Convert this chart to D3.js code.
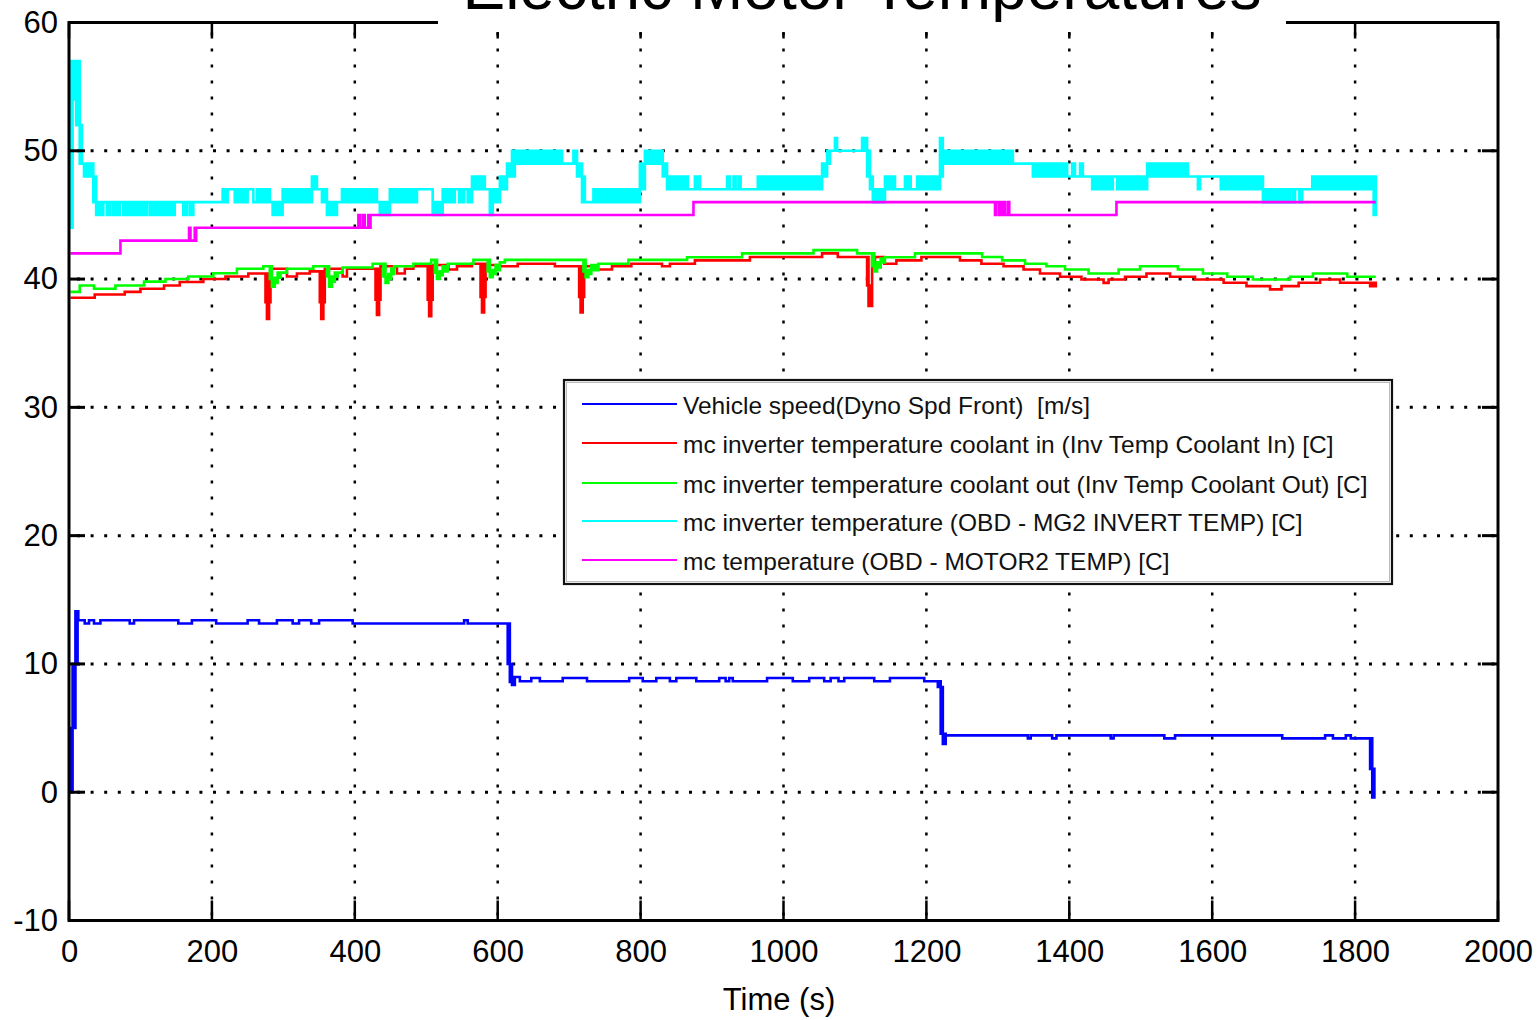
<!DOCTYPE html>
<html>
<head>
<meta charset="utf-8">
<script src="https://cdn.jsdelivr.net/npm/d3@7"></script>
<style>
body { margin: 0; background: #fff; }
svg { display: block; font-family: 'Liberation Sans', Arial, sans-serif; }
</style>
</head>
<body>
<svg id="chart" width="1537" height="1020"></svg>
<script>
// time ticks (s) and value ticks
var xTicks = [0, 200, 400, 600, 800, 1000, 1200, 1400, 1600, 1800, 2000];
var yTicks = [-10, 0, 10, 20, 30, 40, 50, 60];

// each entry: [time, low, high] held until the next time (high omitted = single value)
var vehicleSpeed = [
    [2, 0, 5], [5, 5, 10], [9, 10, 14.1], [12, 13.4, 14.1], [13, 13.4],
    [22, 13.15], [28, 13.4], [35, 13.15], [44, 13.4], [85, 13.15], [91, 13.4],
    [153, 13.15], [172, 13.4], [206, 13.15], [250, 13.4], [266, 13.15], [291, 13.4],
    [313, 13.15], [322, 13.4], [339, 13.15], [350, 13.4], [397, 13.15], [553, 13.4],
    [558, 13.15], [614, 10, 13.15], [617, 8.6, 10], [620, 8.36, 8.98], [624, 8.98],
    [631, 8.65], [647, 8.9], [659, 8.65], [691, 8.9], [725, 8.65], [784, 8.9], [803, 8.65],
    [822, 8.9], [841, 8.65], [850, 8.9], [878, 8.65], [910, 8.9], [919, 8.65], [924, 8.9],
    [929, 8.65], [977, 8.9], [1013, 8.65], [1036, 8.9], [1057, 8.65], [1066, 8.9], [1077, 8.65],
    [1085, 8.9], [1127, 8.65], [1149, 8.9], [1197, 8.65], [1216, 8.2, 8.65], [1220, 4.56, 8.2],
    [1223, 3.77, 4.56], [1227, 4.43], [1342, 4.2], [1346, 4.43], [1376, 4.2], [1382, 4.43],
    [1458, 4.2], [1462, 4.43], [1533, 4.2], [1548, 4.43], [1698, 4.2], [1758, 4.43],
    [1769, 4.2], [1787, 4.43], [1794, 4.2], [1821, 1.82, 4.2], [1824, -0.4, 1.82], [1827, -0.4]
];

var coolantIn = [
    [2, 38.54], [36, 38.8], [78, 39.0], [100, 39.25], [133, 39.5], [155, 39.77], [188, 40.0],
    [219, 40.2], [251, 40.44], [275, 38.2, 40.44], [277, 36.9, 38.2], [280, 38.2, 40.44],
    [282, 40.8], [305, 40.2], [319, 40.44], [337, 40.6], [351, 38.2, 40.6], [353, 36.9, 38.2],
    [356, 38.2, 40.6], [358, 40.8], [383, 40.2], [389, 40.8], [429, 38.4, 40.8], [431, 37.2, 38.4],
    [434, 38.4, 40.8], [436, 41.0], [459, 40.44], [470, 40.8], [482, 41.0], [502, 38.4, 41.0],
    [504, 37.1, 38.4], [507, 38.4, 41.0], [509, 41.1], [531, 40.75], [543, 41.0], [564, 41.2],
    [576, 38.6, 41.2], [578, 37.4, 38.6], [581, 38.6, 41.2], [583, 41.1], [603, 41.0],
    [628, 41.2], [680, 41.0], [714, 38.6, 41.0], [716, 37.4, 38.6], [719, 38.6, 41.0],
    [721, 41.0], [739, 40.75], [760, 41.0], [787, 41.2], [830, 41.0], [841, 41.2], [876, 41.46],
    [953, 41.72], [1054, 42.0], [1076, 41.72], [1117, 39.5, 41.72], [1119, 37.9, 39.5],
    [1124, 40.9, 41.72], [1128, 41.72], [1141, 41.2], [1158, 41.46], [1193, 41.72], [1247, 41.46],
    [1277, 41.2], [1308, 41.0], [1336, 40.75], [1359, 40.44], [1387, 40.18], [1417, 39.97],
    [1448, 39.7], [1455, 39.97], [1478, 40.18], [1508, 40.44], [1541, 40.18], [1576, 39.97],
    [1616, 39.71], [1648, 39.45], [1681, 39.2], [1697, 39.45], [1721, 39.71], [1751, 39.97],
    [1779, 39.71], [1821, 39.45, 39.71], [1829, 39.45]
];

var coolantOut = [
    [2, 39.0], [15, 39.5], [35, 39.25], [65, 39.5], [105, 39.8], [135, 40.0], [167, 40.2],
    [202, 40.45], [235, 40.8], [272, 41.0],
    [281, 40.0, 41.0], [284, 39.4, 40.0], [288, 39.7, 40.1], [292, 40.1, 40.5], [296, 40.5], [305, 40.8], [342, 41.0],
    [361, 40.2, 41.0], [364, 39.4, 40.2], [368, 39.8, 40.2], [372, 40.2, 40.5], [376, 40.5], [383, 40.9], [425, 41.2],
    [440, 40.2, 41.2], [443, 39.7, 40.2], [447, 40.0, 40.4], [451, 40.4, 40.8], [455, 41.0], [482, 41.2], [507, 41.5],
    [512, 40.5, 41.5], [515, 40.0, 40.5], [519, 40.3, 40.6], [523, 40.6, 41.0], [530, 41.2], [566, 41.5],
    [586, 40.6, 41.5], [589, 40.15, 40.6], [593, 40.4, 40.7], [597, 40.7, 41.1], [603, 41.3], [610, 41.5],
    [720, 40.6, 41.5], [723, 40.15, 40.6], [727, 40.4, 40.7], [731, 40.7, 41.1], [741, 41.2], [783, 41.5], [865, 41.7],
    [942, 42.0], [1042, 42.26], [1103, 42.0],
    [1124, 41.0, 42.0], [1127, 40.6, 41.0], [1131, 40.9, 41.3], [1136, 41.3, 41.6], [1142, 41.7], [1184, 42.0],
    [1278, 41.72], [1306, 41.46], [1338, 41.2], [1368, 41.0], [1394, 40.75], [1427, 40.44],
    [1469, 40.75], [1499, 41.0], [1552, 40.75], [1587, 40.44], [1621, 40.18], [1657, 39.97],
    [1709, 40.18], [1741, 40.44], [1789, 40.18], [1829, 40.18]
];

var inverterTemp = [
    [2, 44, 57], [5, 54, 57], [10, 52, 57], [15, 49, 52], [18, 49, 49], [21, 48, 49],
    [34, 46, 48], [38, 45, 46], [48, 46, 46], [53, 45, 46], [58, 46, 46], [62, 45, 46],
    [71, 46, 46], [76, 45, 46], [109, 46, 46], [113, 45, 46], [148, 46, 46], [160, 45, 46],
    [165, 46, 46], [169, 45, 46], [174, 46, 46], [215, 46, 47], [222, 47, 47], [232, 46, 47],
    [250, 47, 47], [258, 46, 46], [263, 46, 47], [281, 46, 46], [285, 45, 46], [299, 46, 47],
    [309, 47, 47], [312, 46, 47], [318, 47, 47], [321, 46, 47], [326, 47, 47], [329, 46, 47],
    [340, 47, 48], [347, 47, 47], [354, 46, 47], [361, 45, 46], [375, 46, 46], [382, 46, 47],
    [431, 46, 46], [435, 45, 46], [449, 46, 47], [487, 47, 47], [509, 45, 46], [523, 46, 47],
    [540, 47, 47], [546, 46, 47], [553, 47, 47], [558, 46, 47], [564, 47, 48], [582, 47, 47],
    [589, 45, 47], [593, 46, 47], [603, 47, 48], [613, 48, 49], [620, 48, 50], [624, 49, 50],
    [690, 49, 49], [706, 49, 50], [711, 48, 49], [718, 46, 48], [722, 46, 46], [734, 46, 47],
    [799, 47, 49], [806, 49, 50], [831, 48, 49], [837, 47, 48], [866, 47, 47], [876, 47, 48],
    [883, 47, 47], [921, 47, 48], [925, 47, 47], [930, 47, 48], [933, 47, 47], [937, 47, 48],
    [940, 47, 47], [964, 47, 48], [1054, 48, 49], [1061, 49, 50], [1065, 50, 50], [1072, 50, 51],
    [1075, 50, 50], [1110, 50, 51], [1117, 48, 50], [1121, 47, 48], [1125, 46, 47], [1142, 47, 48],
    [1156, 47, 47], [1170, 47, 48], [1178, 47, 47], [1187, 47, 48], [1219, 48, 51], [1223, 49, 50],
    [1321, 49, 49], [1349, 48, 49], [1397, 48, 48], [1404, 48, 49], [1408, 48, 48], [1415, 48, 49],
    [1419, 48, 48], [1432, 47, 48], [1461, 48, 48], [1467, 47, 48], [1509, 48, 49], [1566, 48, 48],
    [1580, 47, 48], [1583, 48, 48], [1612, 47, 48], [1671, 46, 47], [1709, 47, 47], [1713, 46, 47],
    [1716, 47, 47], [1722, 46, 47], [1726, 47, 47], [1740, 47, 48], [1826, 45, 48], [1829, 45, 45]
];

var motorTemp = [
    [2, 42], [72, 43], [168, 43, 44], [170, 43], [176, 43, 44], [178, 44],
    [405, 44, 45], [407, 44], [411, 44, 45], [414, 44], [419, 44, 45], [422, 45],
    [874, 46], [1296, 45, 46], [1298, 46], [1302, 45, 46], [1310, 45], [1314, 45, 46],
    [1316, 45], [1466, 46], [1829, 46]
];

var seriesNames = [
    'Vehicle speed(Dyno Spd Front)  [m/s]',
    'mc inverter temperature coolant in (Inv Temp Coolant In) [C]',
    'mc inverter temperature coolant out (Inv Temp Coolant Out) [C]',
    'mc inverter temperature (OBD - MG2 INVERT TEMP) [C]',
    'mc temperature (OBD - MOTOR2 TEMP) [C]'
];
var seriesColors = ['#0000ff', '#ff0000', '#00ff00', '#00ffff', '#ff00ff'];

var series = [vehicleSpeed, coolantIn, coolantOut, inverterTemp, motorTemp];

var svg = d3.select('#chart'),
    margin = {top: 22.5, right: 39, bottom: 99.5, left: 69},
    width = +svg.attr('width') - margin.left - margin.right,
    height = +svg.attr('height') - margin.top - margin.bottom;

svg.append('rect').attr('width', 1537).attr('height', 1020).attr('fill', '#fff');

var x = d3.scaleLinear().domain([0, 2000]).range([margin.left, margin.left + width]);
var y = d3.scaleLinear().domain([-10, 60]).range([margin.top + height, margin.top]);

// dotted grid
var grid = svg.append('g').attr('stroke', '#000').attr('fill', 'none');
grid.selectAll('line.h')
    .data(yTicks.slice(1, -1))
    .enter().append('line')
    .attr('x1', x(0) + 8).attr('x2', x(2000))
    .attr('y1', y).attr('y2', y)
    .attr('stroke-width', 3)
    .attr('stroke-dasharray', '3,10.6');
grid.selectAll('line.v')
    .data(xTicks.slice(1, -1))
    .enter().append('line')
    .attr('x1', x).attr('x2', x)
    .attr('y1', y(60) + 10).attr('y2', y(-10))
    .attr('stroke-width', 2.5)
    .attr('stroke-dasharray', '3,13');

// traces
var area = d3.area()
    .curve(d3.curveStepAfter)
    .x(function(d) { return x(d[0]); })
    .y0(function(d) { return y(d[1]); })
    .y1(function(d) { return y(d.length > 2 ? d[2] : d[1]); });

svg.append('g')
    .selectAll('path')
    .data(series)
    .enter().append('path')
    .attr('d', area)
    .attr('fill', function(d, i) { return seriesColors[i]; })
    .attr('stroke', function(d, i) { return seriesColors[i]; })
    .attr('stroke-width', 2.6)
    .attr('stroke-linejoin', 'miter');

// axes box and ticks
var axes = svg.append('g').attr('stroke', '#000');
axes.append('rect')
    .attr('x', x(0)).attr('y', y(60))
    .attr('width', width).attr('height', height)
    .attr('fill', 'none').attr('stroke-width', 3);
axes.selectAll('line.yl')
    .data(yTicks)
    .enter().append('line')
    .attr('x1', x(0)).attr('x2', x(0) + 16)
    .attr('y1', y).attr('y2', y).attr('stroke-width', 3);
axes.selectAll('line.yr')
    .data(yTicks)
    .enter().append('line')
    .attr('x1', x(2000)).attr('x2', x(2000) - 16)
    .attr('y1', y).attr('y2', y).attr('stroke-width', 3);
axes.selectAll('line.xb')
    .data(xTicks)
    .enter().append('line')
    .attr('x1', x).attr('x2', x)
    .attr('y1', y(-10)).attr('y2', y(-10) - 20).attr('stroke-width', 2.5);
axes.selectAll('line.xt')
    .data(xTicks)
    .enter().append('line')
    .attr('x1', x).attr('x2', x)
    .attr('y1', y(60)).attr('y2', y(60) + 16).attr('stroke-width', 2.5);

// tick labels (plain hyphen for negatives, as in the source figure)
var plain = function(d) { return String(d); };
var yAxis = svg.append('g')
    .attr('transform', 'translate(' + x(0) + ',0)')
    .call(d3.axisLeft(y).tickValues(yTicks).tickSize(0).tickPadding(11).tickFormat(plain));
var xAxis = svg.append('g')
    .attr('transform', 'translate(0,' + y(-10) + ')')
    .call(d3.axisBottom(x).tickValues(xTicks).tickSize(0).tickPadding(19).tickFormat(plain));
[xAxis, yAxis].forEach(function(a) {
    a.select('.domain').remove();
    a.selectAll('text')
        .attr('font-family', "'Liberation Sans', Arial, sans-serif")
        .attr('font-size', 31)
        .attr('fill', '#000');
});

svg.append('text')
    .attr('x', 779).attr('y', 1010)
    .attr('text-anchor', 'middle')
    .attr('font-size', 31)
    .text('Time (s)');

// legend
var legend = svg.append('g');
legend.append('rect')
    .attr('x', 564).attr('y', 380)
    .attr('width', 828).attr('height', 204)
    .attr('fill', '#fff').attr('stroke', '#111').attr('stroke-width', 2.2);
legend.append('rect')
    .attr('x', 566.5).attr('y', 382.5)
    .attr('width', 823).attr('height', 199)
    .attr('fill', 'none').attr('stroke', '#bbb').attr('stroke-width', 1);
var rows = legend.selectAll('g.row')
    .data(seriesNames)
    .enter().append('g')
    .attr('transform', function(d, i) {
        return 'translate(0,' + [404, 443, 483, 521, 560][i] + ')';
    });
rows.append('line')
    .attr('x1', 582).attr('x2', 677)
    .attr('stroke', function(d, i) { return seriesColors[i]; })
    .attr('stroke-width', 2.2);
rows.append('text')
    .attr('x', 683).attr('y', 10)
    .attr('font-size', 24.5)
    .attr('fill', '#111')
    .style('white-space', 'pre')
    .text(function(d) { return d; });

// title with its white backing over the frame
svg.append('rect')
    .attr('x', 438).attr('y', 0)
    .attr('width', 848).attr('height', 32)
    .attr('fill', '#fff');
svg.append('text')
    .attr('x', 862).attr('y', 9)
    .attr('text-anchor', 'middle')
    .attr('font-size', 64)
    .text('Electric Motor Temperatures');
</script>
</body>
</html>
